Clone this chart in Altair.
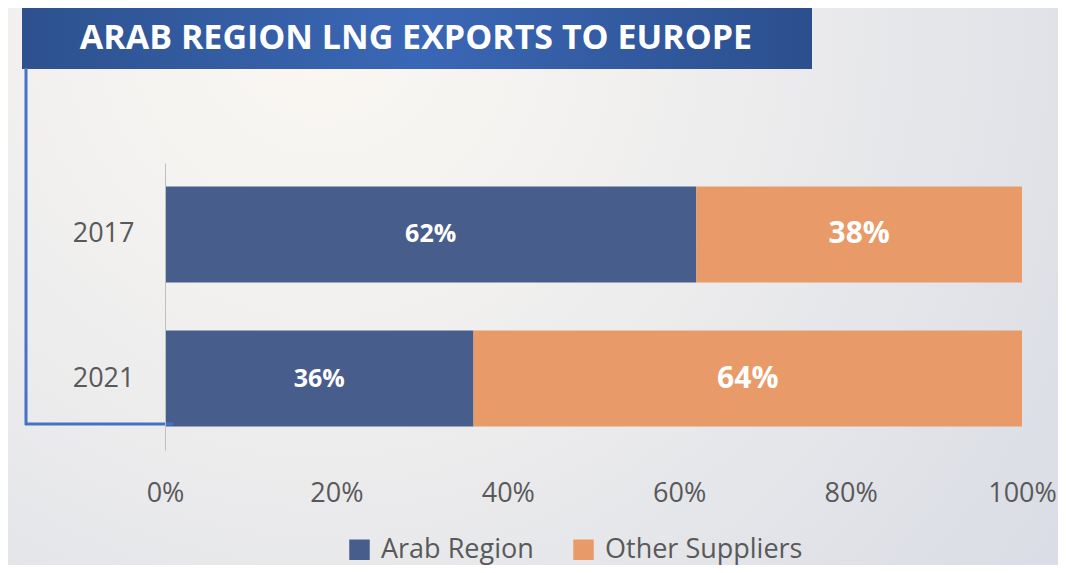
import altair as alt
import pandas as pd

years = ["2017", "2021"]
series = ["Arab Region", "Other Suppliers"]
arab = [0.62, 0.36]
other = [0.38, 0.64]
ticks = [0, 0.2, 0.4, 0.6, 0.8, 1.0]
colors = ["#475e8c", "#e89a68"]

rows = []
for y, a, o in zip(years, arab, other):
    rows.append({"year": y, "series": series[0], "value": a, "start": 0.0, "end": a, "mid": a / 2})
    rows.append({"year": y, "series": series[1], "value": o, "start": a, "end": a + o, "mid": a + o / 2})
df = pd.DataFrame(rows)

W, H = 857, 287
FONT = "Open Sans"

one = pd.DataFrame({"a": [0]})

bg = alt.Chart(one).mark_rect(
    fill={
        "gradient": "radial",
        "x1": 0.3, "y1": 0.25, "r1": 0.0,
        "x2": 0.3, "y2": 0.25, "r2": 0.85,
        "stops": [
            {"offset": 0.0, "color": "#fbf8f3"},
            {"offset": 0.35, "color": "#f1f0ef"},
            {"offset": 1.0, "color": "#dadde5"},
        ],
    }
).encode(x=alt.value(-157), x2=alt.value(893), y=alt.value(-155), y2=alt.value(402))

banner = alt.Chart(one).mark_rect(
    fill={
        "gradient": "linear",
        "x1": 0, "y1": 0, "x2": 1, "y2": 0,
        "stops": [
            {"offset": 0.0, "color": "#2d518e"},
            {"offset": 0.5, "color": "#3a67b6"},
            {"offset": 1.0, "color": "#2c4f8d"},
        ],
    }
).encode(x=alt.value(-143), x2=alt.value(647), y=alt.value(-159), y2=alt.value(-94))

title = alt.Chart(pd.DataFrame({"t": ["ARAB REGION LNG EXPORTS TO EUROPE"]})).mark_text(
    font=FONT, fontSize=34, fontWeight="bold", color="white", align="center", baseline="middle"
).encode(text="t:N", x=alt.value(251), y=alt.value(-124))

vline = alt.Chart(one).mark_rule(color="#4472c4", strokeWidth=3).encode(
    x=alt.value(-139), y=alt.value(-95), y2=alt.value(262)
)
hline = alt.Chart(one).mark_rule(color="#4472c4", strokeWidth=3).encode(
    x=alt.value(-140), x2=alt.value(8), y=alt.value(261)
)

xscale = alt.Scale(domain=[0, 1], nice=False)
yscale = alt.Scale(domain=years, paddingInner=0.333, paddingOuter=0.163)

base = alt.Chart(df)

bars = base.mark_bar(stroke=None).encode(
    x=alt.X("start:Q", scale=xscale, title=None,
            axis=alt.Axis(values=ticks, format="%", domain=False, ticks=False, tickSize=0, grid=False,
                          labelFont=FONT, labelFontSize=27, labelColor="#595959", labelPadding=30,
                          labelFlush=False, labelOverlap=False, zindex=1)),
    x2="end:Q",
    y=alt.Y("year:N", scale=yscale, title=None,
            axis=alt.Axis(domain=True, domainColor="#c0c0c0", domainWidth=1, ticks=False, tickSize=0,
                          grid=False, labelFont=FONT, labelFontSize=27, labelColor="#595959",
                          labelPadding=31, zindex=1)),
    color=alt.Color("series:N", scale=alt.Scale(domain=series, range=colors),
                    legend=alt.Legend(orient="none", legendX=181, legendY=373, direction="horizontal",
                                      title=None, symbolType="square", symbolSize=420,
                                      symbolStrokeWidth=0, labelFont=FONT, labelFontSize=27,
                                      labelColor="#595959", labelOffset=8, columnPadding=36,
                                      labelLimit=400, zindex=1)),
)

lab_a = base.transform_filter(alt.datum.series == series[0]).mark_text(
    font=FONT, fontSize=25, fontWeight="bold", color="white", align="center", baseline="middle"
).encode(x=alt.X("mid:Q", scale=xscale), y=alt.Y("year:N", scale=yscale),
         text=alt.Text("value:Q", format=".0%"))

lab_o = base.transform_filter(alt.datum.series == series[1]).mark_text(
    font=FONT, fontSize=30, fontWeight="bold", color="white", align="center", baseline="middle"
).encode(x=alt.X("mid:Q", scale=xscale), y=alt.Y("year:N", scale=yscale),
         text=alt.Text("value:Q", format=".0%"))

chart = alt.layer(bg, banner, title, bars, lab_a, lab_o, vline, hline).properties(
    width=W, height=H,
    autosize=alt.AutoSizeParams(type="none"),
    padding={"left": 157, "top": 155, "right": 36, "bottom": 115},
    background="#e6e8ee",
).configure_view(stroke=None)

chart.save("out.html", embed_options={"renderer": "svg", "actions": False})
